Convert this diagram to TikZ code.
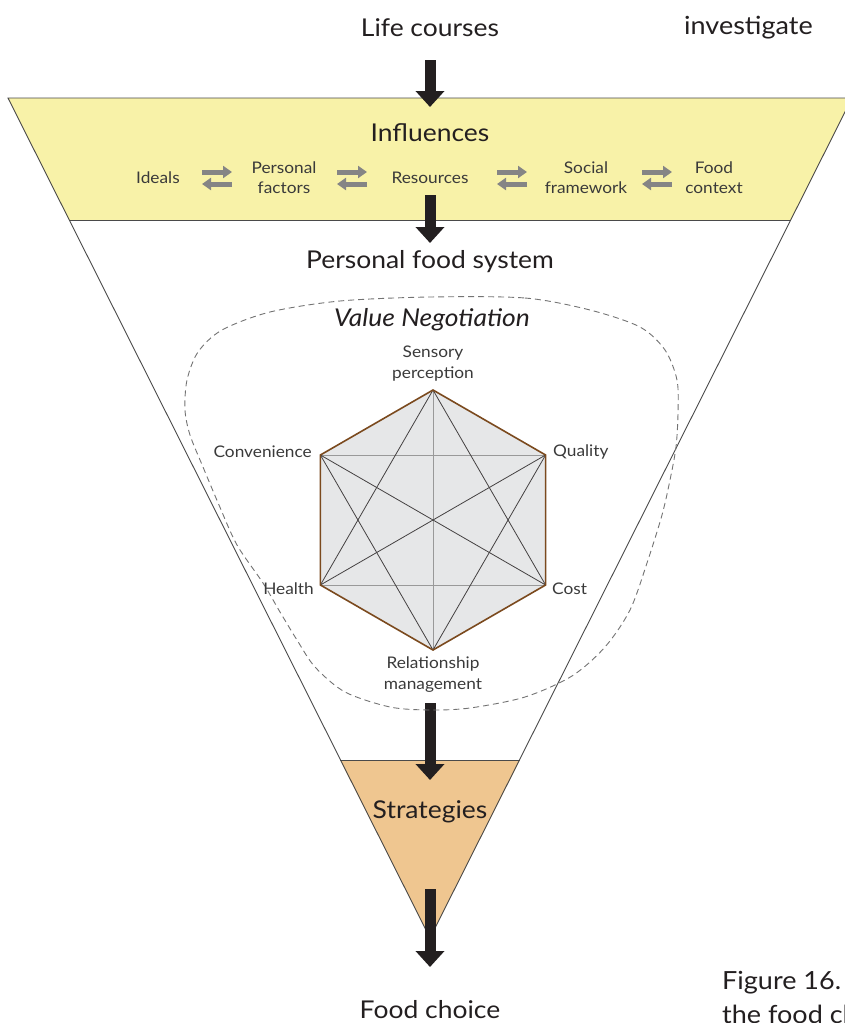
\documentclass[tikz,border=0pt]{standalone}
\usepackage{fontspec}
\setmainfont{Lato}[FakeStretch=1.08]
\usetikzlibrary{arrows.meta}

\definecolor{bandyellow}{HTML}{F8F2A8}
\definecolor{stratorange}{HTML}{EFC690}
\definecolor{hexfill}{HTML}{E6E7E8}
\definecolor{hexrim}{HTML}{7B4A1E}
\definecolor{inkdark}{HTML}{231F20}
\definecolor{textgrey}{HTML}{3A3A3A}
\definecolor{arrowgrey}{HTML}{858585}
\definecolor{outline}{HTML}{4A4A4A}

\tikzset{
  heading/.style={font=\fontsize{24.5}{29}\selectfont, text=inkdark, inner sep=0pt},
  factor/.style={font=\fontsize{16}{20}\selectfont, text=textgrey, align=center, inner sep=0pt},
  value/.style={font=\fontsize{16}{21}\selectfont, text=textgrey, align=center, inner sep=0pt},
  flow/.style={draw=inkdark, line width=11pt, -{Triangle[width=28pt,length=16pt]}},
  swap/.style={draw=arrowgrey, line width=5pt, -{Triangle[width=12pt,length=9pt]}},
  strongline/.style={draw=inkdark!85, line width=0.8pt},
  softline/.style={draw=black!40, line width=0.8pt},
  bodytext/.style={font=\fontsize{25}{30}\selectfont, text=inkdark, anchor=west, inner sep=0pt}
}

\begin{document}
\begin{tikzpicture}[x=1pt,y=-1pt]
\useasboundingbox (0,0) rectangle (845,1023);
\clip (0,0) rectangle (845,1023);

% funnel: yellow influences band and orange strategies tip
\fill[bandyellow] (8,98) -- (852,98) -- (791,220) -- (69,220) -- cycle;
\fill[stratorange] (340,760) -- (520,760) -- (430,938) -- cycle;
\draw[outline, line width=0.8pt] (69,220) -- (791,220);
\draw[outline, line width=0.7pt] (340,760) -- (520,760);
\draw[outline, line width=0.9pt, line join=miter] (8,98) -- (852,98) -- (430,938) -- cycle;

% headings
\node[heading] (life) at (430,28) {Life courses};
\node[heading] (infl) at (430,133) {Influences};
\node[heading] (pfs) at (430,262) {Personal food system};
\node[heading] (strat) at (430,812) {Strategies};
\node[heading] (choice) at (430,1010) {Food choice};

% influence factors
\node[factor] (ideals) at (158,178) {Ideals};
\node[factor] (personal) at (284,178) {Personal\\factors};
\node[factor] (resources) at (430,178) {Resources};
\node[factor] (social) at (586,178) {Social\\framework};
\node[factor] (context) at (714,178) {Food\\context};

% two-way exchanges between neighbouring factors
\foreach \cx/\name in {217/a, 352/b, 512/c, 657/d} {
  \coordinate (\name l1) at (\cx-15,172);
  \coordinate (\name r1) at (\cx+15,172);
  \coordinate (\name l2) at (\cx-15,184);
  \coordinate (\name r2) at (\cx+15,184);
  \draw[swap] (\name l1) -- (\name r1);
  \draw[swap] (\name r2) -- (\name l2);
}

% main downward flow
\coordinate (f1s) at (430,60);   \coordinate (f1e) at (430,107);
\coordinate (f2s) at (430,195);  \coordinate (f2e) at (430,243);
\coordinate (f3s) at (430,703);  \coordinate (f3e) at (430,780);
\coordinate (f4s) at (430,889);  \coordinate (f4e) at (430,967);
\draw[flow] (f1s) -- (f1e);
\draw[flow] (f2s) -- (f2e);
\draw[flow] (f3s) -- (f3e);
\draw[flow] (f4s) -- (f4e);

% value negotiation boundary
\draw[black!55, line width=0.9pt, dash pattern=on 6pt off 4pt]
  plot[smooth cycle, tension=0.5] coordinates {
   (430,297) (525,298) (590,310) (640,327) (665,350) (677,380) (678,413)
   (676,447) (670,480) (662,515) (647,563) (630,610) (605,647) (572,676)
   (525,697) (470,708) (430,710) (390,707) (345,692) (315,667) (297,640)
   (280,612) (263,583) (237,545) (219,505) (203,467) (190,435) (185,410)
   (187,380) (198,352) (222,330) (270,312) (340,301)};
\node[font=\fontsize{24.5}{29}\selectfont\itshape, text=inkdark, inner sep=0pt] (vneg) at (432,320) {Value Negotiation};

% value hexagon
\coordinate (hT) at (433,390);
\coordinate (hUR) at (545.6,455);
\coordinate (hLR) at (545.6,585);
\coordinate (hB) at (433,650);
\coordinate (hLL) at (320.4,585);
\coordinate (hUL) at (320.4,455);
\fill[hexfill] (hT) -- (hUR) -- (hLR) -- (hB) -- (hLL) -- (hUL) -- cycle;
\draw[softline] (hUL) -- (hUR);
\draw[softline] (hLL) -- (hLR);
\draw[softline] (hT) -- (hB);
\draw[strongline] (hT) -- (hLL);
\draw[strongline] (hT) -- (hLR);
\draw[strongline] (hB) -- (hUL);
\draw[strongline] (hB) -- (hUR);
\draw[strongline] (hUL) -- (hLR);
\draw[strongline] (hUR) -- (hLL);
\draw[hexrim, line width=1.6pt, line join=miter] (hT) -- (hUR) -- (hLR) -- (hB) -- (hLL) -- (hUL) -- cycle;

\node[value] (sensory) at (433,364) {Sensory\\perception};
\node[value, anchor=west] (quality) at (553,452) {Quality};
\node[value, anchor=west] (cost) at (552,589) {Cost};
\node[value, anchor=east] (health) at (314,589) {Health};
\node[value, anchor=east] (conv) at (312,452) {Convenience};
\node[value] (relation) at (433,675) {Relationship\\management};

% running text of the page
\node[bodytext] (bodyA) at (684,28) {investigate};
\node[bodytext] (bodyB) at (722,983) {Figure 16.};
\node[bodytext] (bodyC) at (722,1014) {the food cl};
\end{tikzpicture}
\end{document}
